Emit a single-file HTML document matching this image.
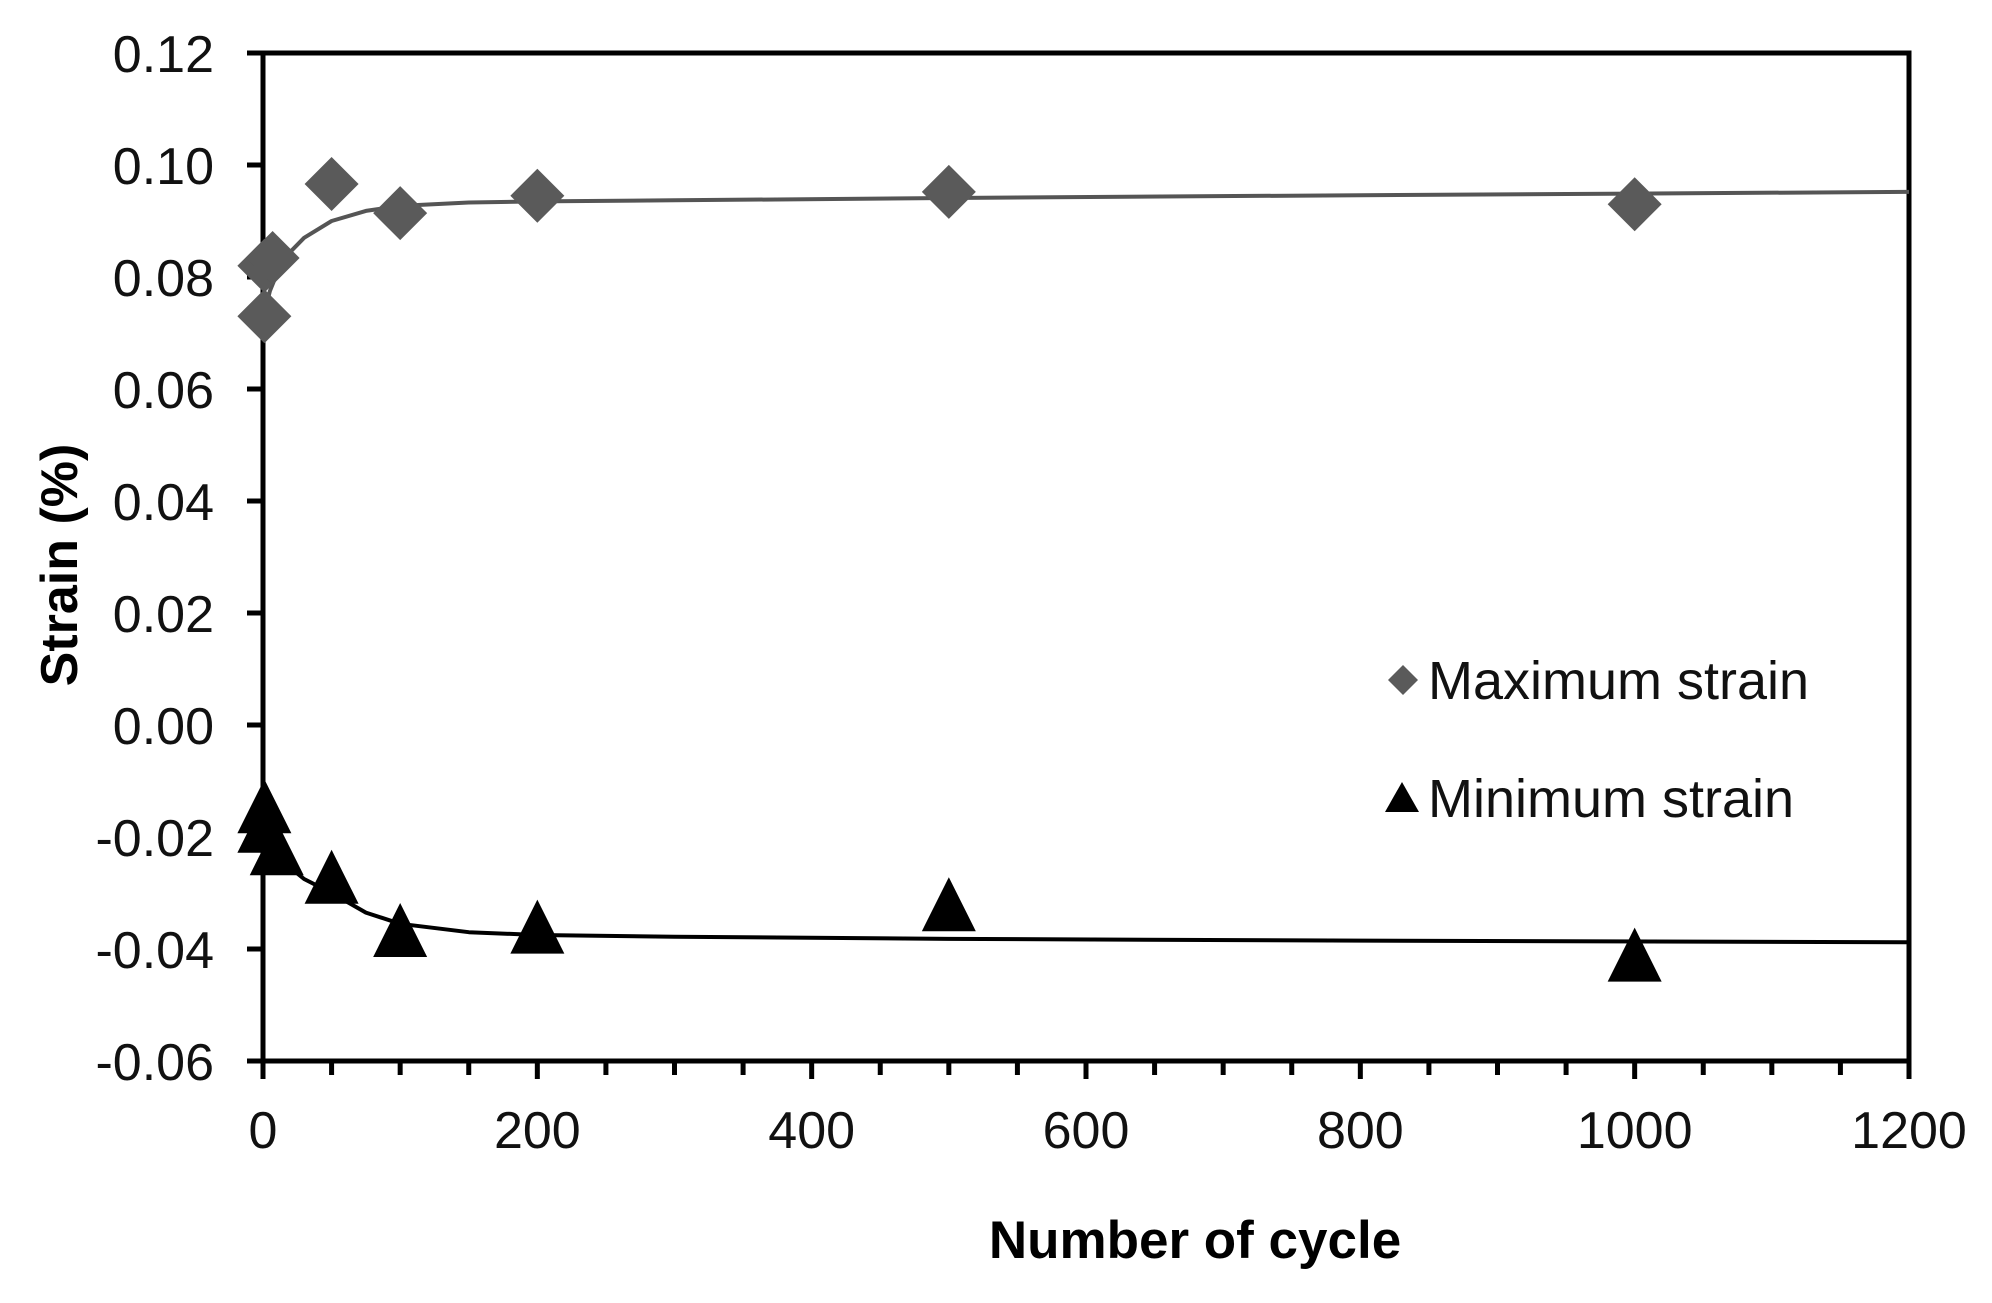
<!DOCTYPE html>
<html><head><meta charset="utf-8"><style>
html,body{margin:0;padding:0;background:#fff;}
svg{display:block;font-family:"Liberation Sans",Arial,sans-serif;}
</style></head><body>
<svg id="chart" width="1992" height="1303" viewBox="0 0 1992 1303">
<g id="plot"></g>
<text x="60" y="565" transform="rotate(-90 60 565)" text-anchor="middle" dominant-baseline="central" font-size="52" font-weight="bold">Strain (%)</text>
<text x="1195" y="1258" text-anchor="middle" font-size="53" font-weight="bold">Number of cycle</text>
<g>
<g>
<polygon points="1403,665 1418,680 1403,695 1388,680" fill="#5a5a5a"/>
<text x="1428" y="699" font-size="54" fill="#111">Maximum strain</text>
</g>
<g>
<polygon points="1402,782 1419,812 1385,812" fill="#000"/>
<text x="1428" y="817" font-size="54" fill="#111">Minimum strain</text>
</g>
</g>
</svg>
<script>
const xTicks=[0,200,400,600,800,1000,1200];
const yTicks=[0.12,0.10,0.08,0.06,0.04,0.02,0.00,-0.02,-0.04,-0.06];
const yTickLabels=["0.12","0.10","0.08","0.06","0.04","0.02","0.00","-0.02","-0.04","-0.06"];
const maxX=[1,1,7,50,100,200,500,1000];
const maxY=[0.073,0.082,0.0834,0.0966,0.0914,0.0945,0.0952,0.093];
const minX=[1,1,10,50,100,200,500,1000];
const minY=[-0.0145,-0.018,-0.022,-0.0271,-0.0366,-0.0360,-0.0320,-0.0410];
const maxFitX=[1,5,10,20,30,50,75,100,150,200,300,500,800,1200];
const maxFitY=[0.0735,0.0775,0.0805,0.0845,0.0870,0.0900,0.0918,0.0927,0.0933,0.0935,0.0937,0.0941,0.0946,0.0952];
const minFitX=[1,5,10,20,30,50,75,100,150,200,300,500,800,1200];
const minFitY=[-0.0195,-0.0210,-0.0225,-0.0255,-0.0275,-0.0300,-0.0335,-0.0355,-0.0370,-0.0375,-0.0378,-0.0382,-0.0385,-0.0388];

const L=263,R=1909,T=53,B=1061;
const X=v=>L+(v-0)/1200*(R-L);
const Y=v=>T+(0.12-v)/0.18*(B-T);
const NS="http://www.w3.org/2000/svg";
const g=document.getElementById('plot');
function mk(tag,attrs){const e=document.createElementNS(NS,tag);for(const k in attrs)e.setAttribute(k,attrs[k]);g.appendChild(e);return e;}

let fr=mk('rect',{x:L,y:T,width:R-L,height:B-T,fill:'none',stroke:'#000','stroke-width':5});



yTicks.forEach((v,i)=>{
  let t=mk('line',{x1:L-16,x2:L,y1:Y(v),y2:Y(v),stroke:'#000','stroke-width':5});
  
  
  let tx=mk('text',{x:214,y:Y(v)+19,'text-anchor':'end','font-size':52,fill:'#111'});
  tx.textContent=yTickLabels[i];
  
  
});
for(let v=0;v<=1200;v+=50){
  const major=v%200===0;
  let t=mk('line',{x1:X(v),x2:X(v),y1:B,y2:B+(major?18:14),stroke:'#000','stroke-width':5});
  
  
}
xTicks.forEach(v=>{
  let tx=mk('text',{x:X(v),y:1148,'text-anchor':'middle','font-size':52,fill:'#111'});
  tx.textContent=String(v);
  
  
});

function fit(xs,ys,color,name){
  const d=xs.map((x,i)=>(i?'L':'M')+X(x).toFixed(1)+','+Y(ys[i]).toFixed(1)).join(' ');
  let p=mk('path',{d:d,fill:'none',stroke:color,'stroke-width':4,'stroke-linejoin':'round'});
  
  
}
fit(maxFitX,maxFitY,'#555','maximum-fit-line');
fit(minFitX,minFitY,'#000','minimum-fit-line');

maxX.forEach((x,i)=>{
  const cx=X(x),cy=Y(maxY[i]),h=27;
  let p=mk('polygon',{points:`${cx},${cy-h} ${cx+h},${cy} ${cx},${cy+h} ${cx-h},${cy}`,fill:'#5a5a5a'});
  
  
});
minX.forEach((x,i)=>{
  const cx=X(x),cy=Y(minY[i]),h=27;
  let p=mk('polygon',{points:`${cx},${cy-h} ${cx+h},${cy+h} ${cx-h},${cy+h}`,fill:'#000'});
  
  
});
</script>
</body></html>
